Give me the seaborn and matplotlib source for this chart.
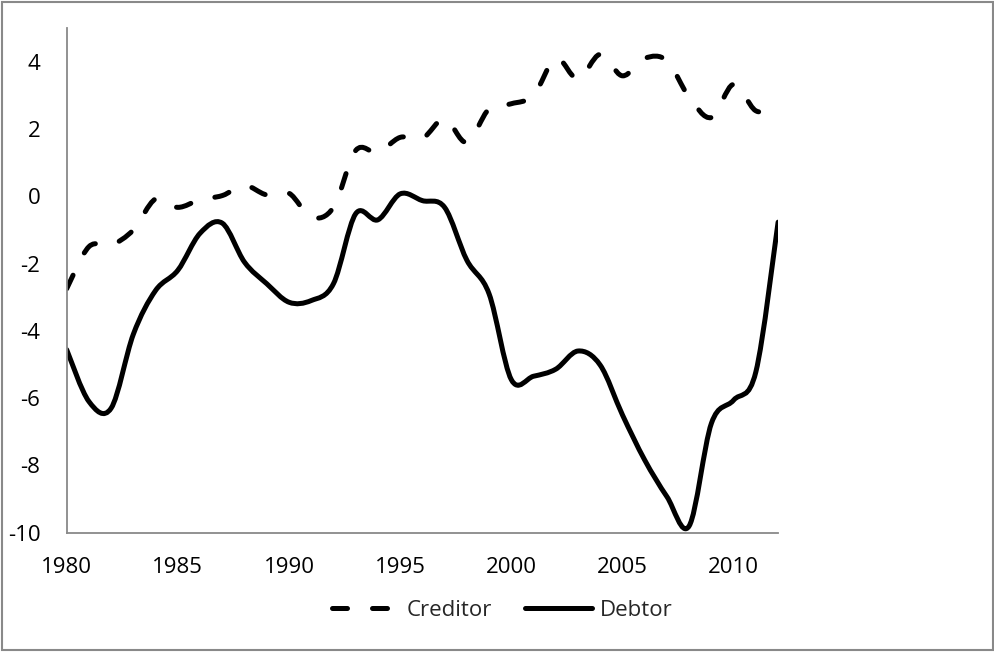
import numpy as np
import matplotlib
matplotlib.use("Agg")
import matplotlib.pyplot as plt
from matplotlib.path import Path
from matplotlib.patches import PathPatch, Rectangle
from matplotlib.lines import Line2D
import seaborn as sns

# Data (annual values, 1980-2012)
years = list(range(1980, 2013))
creditor = [-2.75, -1.5, -1.45, -1.0, -0.08, -0.33, -0.1, 0.02, 0.32, 0.04,
            0.09, -0.62, -0.33, 1.36, 1.3, 1.75, 1.72, 2.3, 1.6, 2.6,
            2.75, 3.0, 4.1, 3.48, 4.22, 3.58, 4.1, 4.03, 2.94, 2.34,
            3.33, 2.54, 2.6]
debtor = [-4.56, -6.1, -6.3, -4.1, -2.8, -2.2, -1.1, -0.8, -1.96, -2.6,
          -3.15, -3.1, -2.6, -0.52, -0.7, 0.07, -0.13, -0.33, -1.9, -2.9,
          -5.45, -5.35, -5.14, -4.6, -5.02, -6.5, -7.84, -8.93, -9.8, -6.75,
          -6.06, -5.22, -0.77]
series_names = ["Creditor", "Debtor"]
y_ticks = [-10, -8, -6, -4, -2, 0, 2, 4]
x_ticks = [1980, 1985, 1990, 1995, 2000, 2005, 2010]

sns.set_style("white")
plt.rcParams['font.family'] = ['Open Sans', 'DejaVu Sans']
FS = 16


def smooth_path(xs, ys):
    # Excel-style smoothed line: cubic Bezier segments through every data point
    pts = np.column_stack([xs, ys]).astype(float)
    n = len(pts)
    verts = [pts[0]]
    codes = [Path.MOVETO]
    for i in range(n - 1):
        p_prev = pts[max(i - 1, 0)]
        p_next2 = pts[min(i + 2, n - 1)]
        c1 = pts[i] + (pts[i + 1] - p_prev) / 6.0
        c2 = pts[i + 1] - (p_next2 - pts[i]) / 6.0
        verts += [c1, c2, pts[i + 1]]
        codes += [Path.CURVE4] * 3
    return Path(verts, codes)


fig = plt.figure(figsize=(9.95, 6.52), dpi=100)
ax = fig.add_axes([0.067, 0.183, 0.715, 0.774])

lw = 3.6
dash = (0, (3, 5))
styles = {"Creditor": dash, "Debtor": "-"}

for name, vals in zip(series_names, [creditor, debtor]):
    patch = PathPatch(smooth_path(years, vals), fill=False, edgecolor="black",
                      linewidth=lw, linestyle=styles[name], capstyle="round",
                      joinstyle="round")
    ax.add_patch(patch)

ax.set_xlim(1980, 2012)
ax.set_ylim(-10, 5)
ax.set_xticks(x_ticks)
ax.set_yticks(y_ticks)
ax.set_xticklabels([str(t) for t in x_ticks])
ax.set_yticklabels([str(t) for t in y_ticks])

sns.despine(ax=ax, top=True, right=True)
for side in ["left", "bottom"]:
    ax.spines[side].set_color("#898989")
    ax.spines[side].set_linewidth(1.3)
ax.tick_params(axis="both", direction="out", length=6.5, width=1.3,
               color="#898989", labelsize=FS, labelcolor="black")
ax.tick_params(axis="y", pad=12.5)
ax.tick_params(axis="x", pad=11)
ax.grid(False)

handles = [Line2D([0], [0], color="black", lw=lw, linestyle=dash,
                  dash_capstyle="round"),
           Line2D([0], [0], color="black", lw=lw, linestyle="-",
                  solid_capstyle="round")]
fig.legend(handles, series_names, loc="center left",
           bbox_to_anchor=(332 / 995, 0.0633), borderpad=0, borderaxespad=0,
           ncol=2, frameon=False, fontsize=FS, handlelength=3.0,
           handletextpad=0.36, columnspacing=1.5)

# chart area border
fig.patches.append(Rectangle((2 / 995, 2 / 652), 991 / 995, 648 / 652,
                             transform=fig.transFigure, fill=False,
                             edgecolor="#898989", linewidth=1.5))

fig.savefig("out.png", dpi=100)
